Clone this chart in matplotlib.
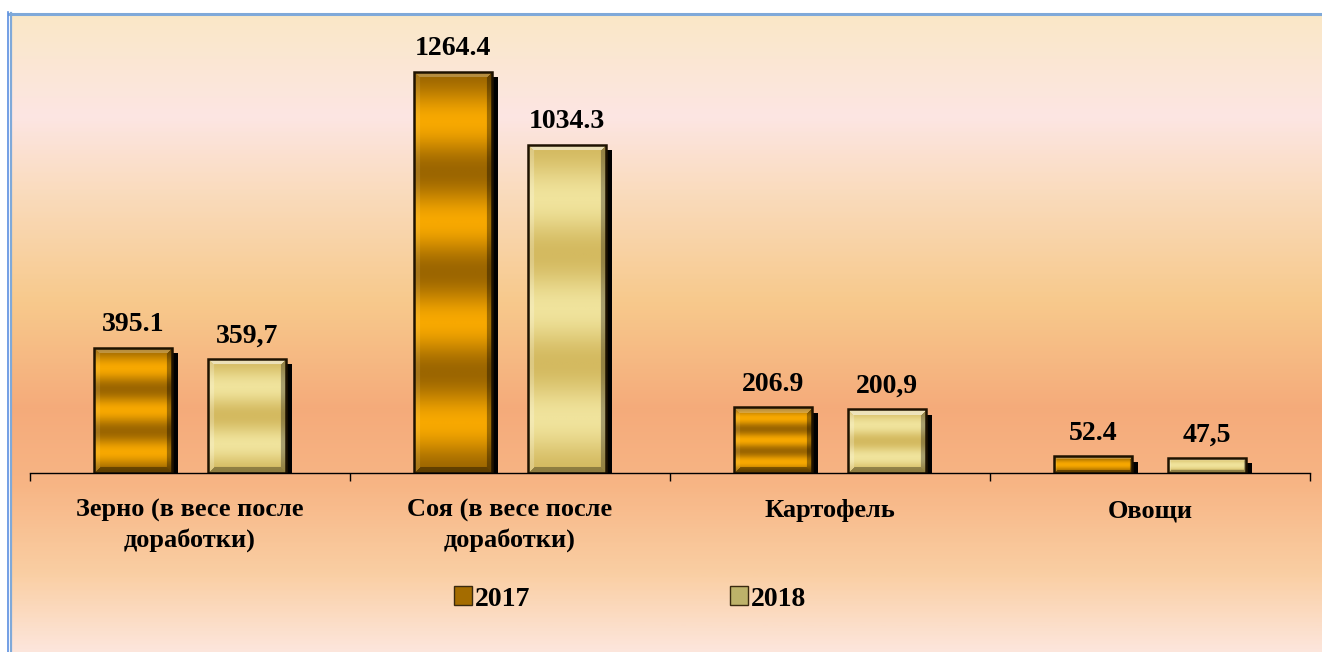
import numpy as np
import matplotlib.pyplot as plt
from matplotlib.patches import Rectangle, Patch
from matplotlib.colors import LinearSegmentedColormap
import matplotlib.transforms as mtransforms

categories = ["Зерно (в весе после\nдоработки)", "Соя (в весе после\nдоработки)", "Картофель", "Овощи"]
series_names = ["2017", "2018"]
values_2017 = [395.1, 1264.4, 206.9, 52.4]
values_2018 = [359.7, 1034.3, 200.9, 47.5]
labels_2017 = ["395.1", "1264.4", "206.9", "52.4"]
labels_2018 = ["359,7", "1034.3", "200,9", "47,5"]

W, H = 1322, 652
fig = plt.figure(figsize=(W / 100, H / 100), dpi=100)
fig.patch.set_facecolor("white")

# background gradient
bg = fig.add_axes([10 / W, 0, 1 - 10 / W, (H - 13) / H], zorder=-10)
bg_cmap = LinearSegmentedColormap.from_list("bg", [
    (0.00, (0.98, 0.91, 0.78)),
    (0.16, (0.99, 0.90, 0.89)),
    (0.28, (0.98, 0.86, 0.74)),
    (0.45, (0.97, 0.79, 0.55)),
    (0.62, (0.96, 0.67, 0.48)),
    (0.74, (0.97, 0.71, 0.52)),
    (0.88, (0.98, 0.81, 0.64)),
    (1.00, (0.99, 0.90, 0.86)),
])
grad = np.linspace(0, 1, 400).reshape(-1, 1)
bg.imshow(grad, aspect="auto", cmap=bg_cmap, extent=[0, 1, 0, 1], origin="upper")
bg.set_xlim(0, 1); bg.set_ylim(0, 1)
bg.axis("off")

# border lines
fig.add_artist(plt.Line2D([9 / W, 1], [1 - 13.5 / H, 1 - 13.5 / H], color="#7fa9d9", lw=2.2))
fig.add_artist(plt.Line2D([8 / W, 8 / W], [0, 1 - 12 / H], color="#5b8fe0", lw=1.2))
fig.add_artist(plt.Line2D([11 / W, 11 / W], [0, 1 - 13 / H], color="#7fa9d9", lw=1.6))

ax = fig.add_axes([30 / W, (H - 473) / H, 1280 / W, 453 / H])
ax.patch.set_alpha(0)
ax.set_xlim(-0.5, 3.5)
ax.set_ylim(0, 1428)
for s in ["left", "right", "top"]:
    ax.spines[s].set_visible(False)
ax.spines["bottom"].set_linewidth(1.0)
ax.spines["bottom"].set_zorder(6)
ax.set_yticks([])
ax.set_xticks([-0.5, 0.5, 1.5, 2.5, 3.5])
ax.set_xticklabels([])
ax.tick_params(axis="x", direction="out", length=6, width=1)

x = np.arange(len(categories))
bw = 0.244
off = 0.178

stripe17 = LinearSegmentedColormap.from_list("s17", ["#9c6600", "#f7a800"])
stripe18 = LinearSegmentedColormap.from_list("s18", ["#d4ba60", "#f0e39c"])

font = dict(family="Liberation Serif", weight="bold")

shadow_tr = mtransforms.offset_copy(ax.transData, fig=fig, x=4.5, y=-4.0, units="points")
px_per_y = 453 / 1428
px_per_x = 320.0


def draw_series(xpos, vals, cmap, top_light, right_dark, band_scale):
    bars = ax.bar(xpos, vals, bw, facecolor="none", edgecolor="#1e1200", lw=1.8, zorder=4)
    for b in bars:
        x0, y0 = b.get_x(), b.get_y()
        w, h = b.get_width(), b.get_height()
        sh = Rectangle((x0, y0), w, h, facecolor="black", edgecolor="none",
                       transform=shadow_tr, zorder=2)
        ax.add_patch(sh)
        ny = max(int(round(h * px_per_y)), 4)
        nx = int(round(w * px_per_x))
        hp = h * px_per_y
        n = 1 if hp < 30 else (3 if hp < 250 else 4)
        n = max(1, int(round(n * band_scale)))
        yy = (np.arange(ny) + 0.5).reshape(-1, 1)
        xx = (np.arange(nx) + 0.5).reshape(1, -1)
        t = 0.5 - 0.5 * np.cos(2 * np.pi * n * yy / ny)
        rgb = cmap(t)[..., :3] * np.ones((1, nx, 1))
        # bevel
        bv = 6.0 if hp > 20 else 3.0
        dl, dr = xx * np.ones_like(yy), (nx - xx) * np.ones_like(yy)
        dt, db = yy * np.ones_like(xx), (ny - yy) * np.ones_like(xx)
        d = np.stack([dt, dl, dr, db])
        face = np.argmin(d, axis=0)
        inb = d.min(axis=0) < bv
        adj = np.array([top_light, top_light * 0.4, -right_dark, -right_dark * 1.1])[face]
        adj = np.where(inb, adj, 0.0)
        rgb = np.where(adj[..., None] > 0, rgb + (1 - rgb) * adj[..., None],
                       rgb * (1 + adj[..., None]))
        im = ax.imshow(np.clip(rgb, 0, 1), extent=[x0, x0 + w, y0, y0 + h], origin="upper",
                       aspect="auto", zorder=3, interpolation="bilinear")
        im.set_clip_path(b)
    return bars


b17 = draw_series(x - off, values_2017, stripe17, 0.25, 0.35, 1.0)
b18 = draw_series(x + off, values_2018, stripe18, 0.55, 0.3, 0.7)

ax.set_xlim(-0.5, 3.5)
ax.set_ylim(0, 1428)

for xi, v, lab in zip(x - off, values_2017, labels_2017):
    ax.annotate(lab, (xi, v), xytext=(0, 7.5), textcoords="offset points",
                ha="center", va="bottom", fontsize=20, **font)
for xi, v, lab in zip(x + off, values_2018, labels_2018):
    ax.annotate(lab, (xi, v), xytext=(0, 7.5), textcoords="offset points",
                ha="center", va="bottom", fontsize=20, **font)

for xi, c in zip(x, categories):
    ax.annotate(c, (xi, 0), xytext=(0, -19), textcoords="offset points",
                ha="center", va="top", fontsize=19, linespacing=1.3, **font)

handles = [Patch(facecolor="#a46c00", edgecolor="#3a2a10", lw=1),
           Patch(facecolor="#bdb26a", edgecolor="#3a2a10", lw=1)]
fig.legend(handles, series_names, loc="center", bbox_to_anchor=(630 / W, 1 - 599 / H),
           ncol=2, frameon=False, handlelength=0.65, handleheight=0.65, handletextpad=0.1,
           columnspacing=7.2, prop=dict(family="Liberation Serif", weight="bold", size=20))

fig.savefig("out.png", dpi=100)
